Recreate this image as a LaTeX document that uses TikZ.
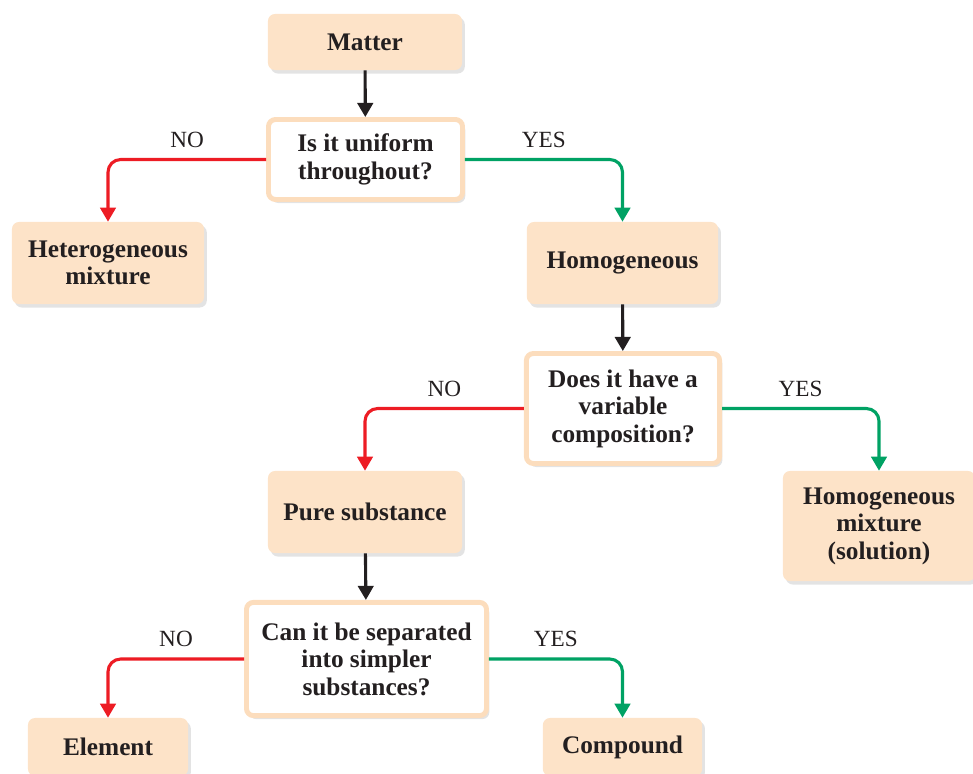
\documentclass[tikz,border=0pt]{standalone}
\usepackage{fontspec}
\setmainfont{Liberation Serif}
\usetikzlibrary{arrows.meta,shadows}
\definecolor{peach}{HTML}{FDE3C8}
\definecolor{peachline}{HTML}{FCDDBD}
\definecolor{nored}{HTML}{ED1C24}
\definecolor{yesgreen}{HTML}{00A264}
\definecolor{ink}{HTML}{231F20}

\begin{document}
\begin{tikzpicture}[x=0.025cm,y=-0.025cm,
    box/.style={rounded corners=5pt,fill=peach,text=ink,align=center,inner sep=2pt,
      font=\fontsize{18}{19.5}\selectfont\bfseries,
      drop shadow={shadow xshift=2pt,shadow yshift=-2.5pt,opacity=0.22}},
    ask/.style={box,fill=white,draw=peachline,line width=3.5pt},
    link/.style={line width=2.2pt,rounded corners=9pt,-{Triangle[length=10pt,width=11pt]}},
    lab/.style={font=\fontsize{16.5}{18}\selectfont,text=ink,above=5.5pt,inner sep=2pt}]
  \useasboundingbox (0,0) rectangle (973,774);
  \node[box,minimum width=4.85cm,minimum height=1.4cm](matter) at (365,42){Matter};
  \node[ask,minimum width=4.85cm,minimum height=2cm](uniform) at (365.5,159.5){Is it uniform\\throughout?};
  \node[box,minimum width=4.8cm,minimum height=2.05cm](hetero) at (108,263){Heterogeneous\\mixture};
  \node[box,minimum width=4.78cm,minimum height=2.05cm](homog) at (622.5,263){Homogeneous};
  \node[ask,minimum width=4.83cm,minimum height=2.75cm](variable) at (623,408.5){Does it have a\\variable\\composition?};
  \node[box,minimum width=4.85cm,minimum height=2.05cm](pure) at (365,512){Pure substance};
  \node[box,minimum width=4.8cm,minimum height=2.75cm](solution) at (879,526){Homogeneous\\mixture\\(solution)};
  \node[ask,minimum width=6.0cm,minimum height=2.83cm](separate) at (366.5,659){Can it be separated\\into simpler\\substances?};
  \node[box,minimum width=4cm,minimum height=1.45cm](element) at (108,747){Element};
  \node[box,minimum width=3.98cm,minimum height=1.45cm](compound) at (622.5,747){Compound};

  \draw[link,ink] (matter) -- (uniform);
  \draw[link,nored] (uniform.west) -| node[lab,pos=0.25](no1){NO} (hetero.north);
  \draw[link,yesgreen] (uniform.east) -| node[lab,pos=0.25](yes1){YES} (homog.north);
  \draw[link,ink] (homog) -- (variable);
  \draw[link,nored] (variable.west) -| node[lab,pos=0.25](no2){NO} (pure.north);
  \draw[link,yesgreen] (variable.east) -| node[lab,pos=0.25](yes2){YES} (solution.north);
  \draw[link,ink] (pure) -- (separate);
  \draw[link,nored] (separate.west) -| node[lab,pos=0.25](no3){NO} (element.north);
  \draw[link,yesgreen] (separate.east) -| node[lab,pos=0.25](yes3){YES} (compound.north);
\end{tikzpicture}
\end{document}
